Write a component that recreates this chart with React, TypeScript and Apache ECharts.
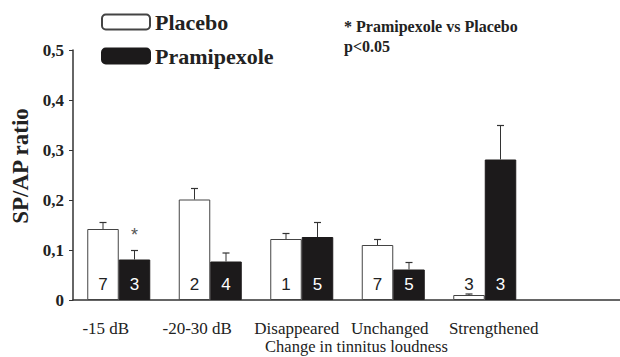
import React, { useEffect, useRef } from "react";
import * as echarts from "echarts";

const categories = ["-15 dB", "-20-30 dB", "Disappeared", "Unchanged", "Strengthened", ""];
const placeboValues = [0.142, 0.201, 0.122, 0.11, 0.01];
const placeboErrors = [0.013, 0.022, 0.011, 0.011, 0.002];
const pramiValues = [0.081, 0.077, 0.126, 0.061, 0.281];
const pramiErrors = [0.018, 0.017, 0.029, 0.014, 0.068];
const placeboN = [7, 2, 1, 7, 3];
const pramiN = [3, 4, 5, 5, 3];
const yTicks = [0, 0.1, 0.2, 0.3, 0.4, 0.5];
const significant = [[0, 0.13]];

// layout only: horizontal nudge of each category label (px)
const LABEL_SHIFT = [-13, -13, -5, -3.5, 9, 0];

const SERIF = "'Liberation Serif', 'Times New Roman', serif";
const SANS = "'Liberation Sans', Arial, sans-serif";
const BAR_W = 31.5;

export default function App() {
  const ref = useRef<HTMLDivElement>(null);
  useEffect(() => {
    const chart = echarts.init(ref.current!, null, { renderer: "svg" });
    const errData = [
      ...placeboValues.map((v, i) => [i, v, v + placeboErrors[i], -1]),
      ...pramiValues.map((v, i) => [i, v, v + pramiErrors[i], 1]),
    ];
    const catData = categories.map((c, i) => {
      const s = LABEL_SHIFT[i];
      return {
        value: c,
        textStyle: { padding: s < 0 ? [0, -2 * s, 0, 0] : [0, 0, 0, 2 * s] },
      };
    });
    chart.setOption({
      animation: false,
      backgroundColor: "#fff",
      grid: { left: 73, right: -2, top: 50, bottom: 57, containLabel: false, outerBoundsMode: "none" },
      legend: {
        orient: "vertical",
        left: 101,
        top: 11,
        padding: 0,
        itemWidth: 48,
        itemHeight: 15,
        itemGap: 12,
        data: ["Placebo", "Pramipexole"],
        textStyle: { fontFamily: SERIF, fontWeight: "bold", fontSize: 22, color: "#222", lineHeight: 16 },
      },
      graphic: [
        {
          type: "text",
          x: 20,
          y: 166,
          rotation: Math.PI / 2,
          style: {
            text: "SP/AP ratio",
            fontFamily: SERIF,
            fontWeight: "bold",
            fontSize: 23,
            fill: "#222",
            align: "center",
            verticalAlign: "middle",
          },
        },
        {
          type: "text",
          x: 344,
          y: 16.5,
          style: {
            text: "* Pramipexole vs Placebo\np<0.05",
            fontFamily: SERIF,
            fontWeight: "bold",
            fontSize: 16,
            lineHeight: 20,
            fill: "#222",
          },
        },
      ],
      xAxis: {
        type: "category",
        data: catData,
        axisLine: { lineStyle: { color: "#333", width: 1.5 } },
        axisTick: { show: false },
        axisLabel: { interval: 0, margin: 20, fontFamily: SERIF, fontSize: 17, color: "#222" },
        name: "Change in tinnitus loudness",
        nameLocation: "middle",
        nameGap: 38,
        nameMoveOverlap: false,
        nameTextStyle: { fontFamily: SERIF, fontSize: 16.5, lineHeight: 17, color: "#222", padding: [0, 0, 0, 18] },
      },
      yAxis: {
        type: "value",
        min: 0,
        max: 0.5,
        interval: 0.1,
        splitLine: { show: false },
        axisLine: { show: true, lineStyle: { color: "#333", width: 1.5 } },
        axisTick: { show: true, length: 4, lineStyle: { color: "#333" } },
        axisLabel: {
          margin: 9,
          fontFamily: SERIF,
          fontWeight: "bold",
          fontSize: 17,
          color: "#222",
          formatter: (v: number) => {
            const t = yTicks.find((x) => Math.abs(x - v) < 1e-9);
            if (t === undefined) return "";
            return t === 0 ? "0" : t.toFixed(1).replace(".", ",");
          },
        },
      },
      series: [
        {
          name: "Placebo",
          type: "bar",
          data: placeboValues,
          barWidth: BAR_W,
          barGap: "0%",
          itemStyle: { color: "#fff", borderColor: "#444", borderWidth: 1 },
          label: {
            show: true,
            position: "insideBottom",
            distance: 7,
            formatter: (p: any) => String(placeboN[p.dataIndex]),
            fontFamily: SANS,
            fontSize: 17,
            color: "#222",
          },
        },
        {
          name: "Pramipexole",
          type: "bar",
          data: pramiValues,
          barWidth: BAR_W,
          barGap: "0%",
          itemStyle: { color: "#1c1a1b", borderColor: "#1c1a1b", borderWidth: 1 },
          label: {
            show: true,
            position: "insideBottom",
            distance: 7,
            formatter: (p: any) => String(pramiN[p.dataIndex]),
            fontFamily: SANS,
            fontSize: 17,
            color: "#fff",
          },
        },
        {
          type: "custom",
          data: errData,
          z: 5,
          renderItem: (params: any, api: any) => {
            const i = api.value(0);
            const side = api.value(3);
            const base = api.coord([i, api.value(1)]);
            const top = api.coord([i, api.value(2)]);
            const x = base[0] + side * (BAR_W / 2);
            return {
              type: "group",
              children: [
                { type: "line", shape: { x1: x, y1: base[1], x2: x, y2: top[1] }, style: { stroke: "#333", lineWidth: 1 } },
                { type: "line", shape: { x1: x - 3.5, y1: top[1], x2: x + 3.5, y2: top[1] }, style: { stroke: "#333", lineWidth: 1.2 } },
              ],
            };
          },
        },
        {
          type: "custom",
          data: significant,
          z: 5,
          renderItem: (params: any, api: any) => {
            const p = api.coord([api.value(0), api.value(1)]);
            return {
              type: "text",
              x: p[0] + BAR_W / 2,
              y: p[1],
              style: { text: "*", fontFamily: SANS, fontSize: 18, fill: "#555", align: "center", verticalAlign: "middle" },
            };
          },
        },
      ],
    });
    return () => chart.dispose();
  }, []);
  return <div ref={ref} style={{ position: "fixed", left: 0, top: 0, width: 620, height: 357 }} />;
}
